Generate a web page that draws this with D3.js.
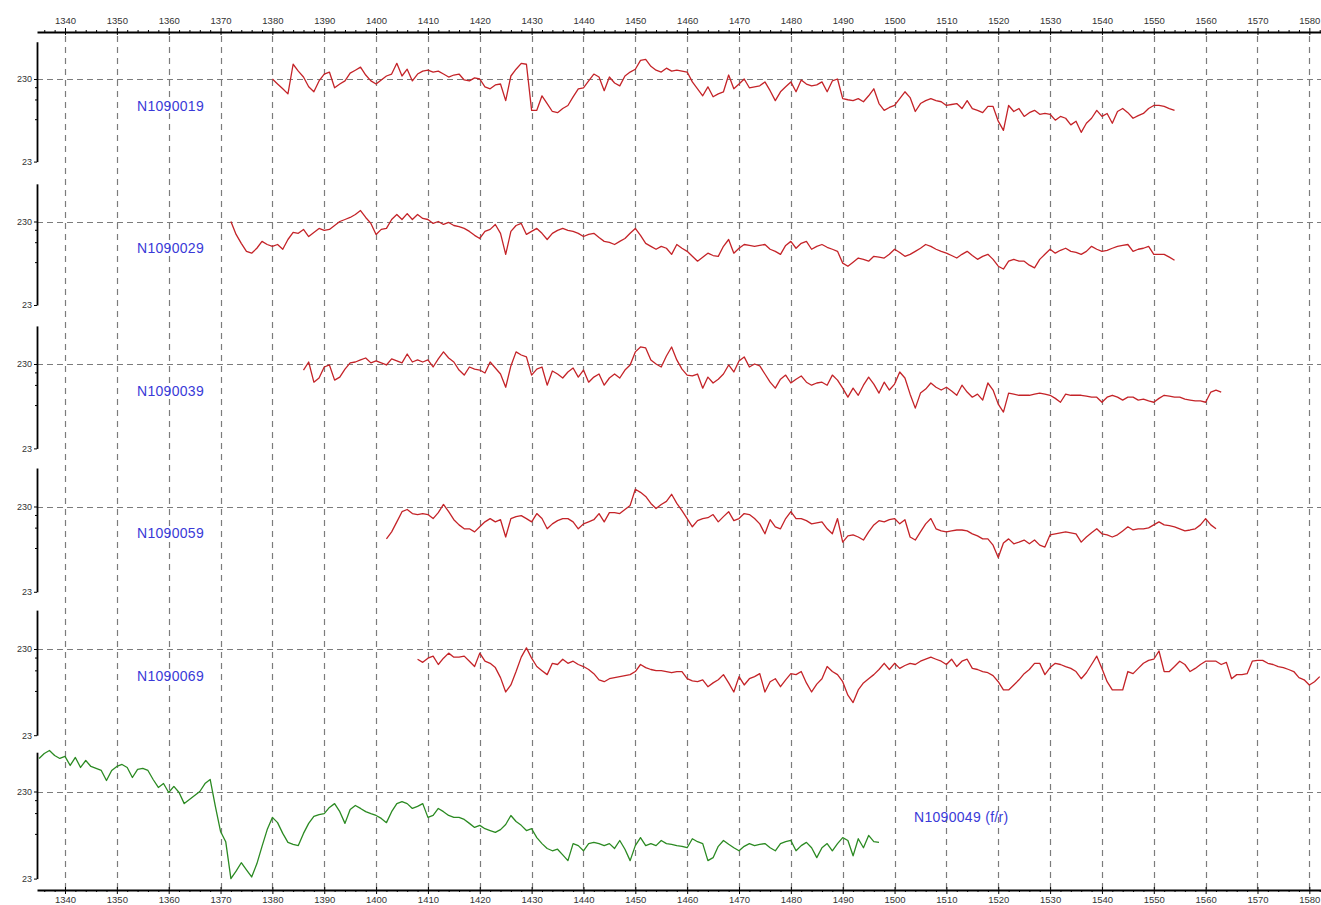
<!DOCTYPE html>
<html>
<head>
<meta charset="utf-8">
<script src="https://cdn.jsdelivr.net/npm/d3@7"></script>
<style>
  body { margin: 0; background: #fff; }
</style>
</head>
<body>
<script>
// series names / first year of each series (panels top to bottom)
const seriesNames = ["N1090019", "N1090029", "N1090039", "N1090059", "N1090069", "N1090049 (f/r)"];
const seriesStart = [1380, 1372, 1386, 1402, 1408, 1335];

// ring widths, one value per year
const s19 = [
  230,200,175,152,347,286,243,185,161,218,
  264,279,180,200,218,271,294,320,257,218,
  200,224,250,264,356,250,302,218,264,286,
  294,279,286,264,243,257,264,224,218,237,
  230,185,175,195,200,126,250,302,356,347,
  96,96,144,116,93,90,101,110,140,175,
  180,218,264,243,166,243,206,190,250,279,
  302,387,398,328,294,279,311,286,294,286,
  279,212,175,144,185,140,152,161,257,175,
  200,230,180,185,190,212,166,126,161,185,
  212,161,224,200,190,195,212,161,218,230,
  133,129,126,133,122,144,175,116,96,104,
  110,133,161,137,93,116,126,133,126,122,
  110,113,116,101,126,101,96,90,107,107,
  71,55,110,93,101,81,90,96,86,88,
  86,73,81,77,64,71,52,67,77,96,
  81,88,67,93,101,90,77,83,88,101,
  110,110,107,101,96
];
const s29 = [
  230,161,126,101,96,110,133,122,116,122,
  107,140,170,166,185,152,170,190,180,185,
  206,230,243,257,279,311,257,218,161,185,
  190,243,279,243,286,243,279,250,243,218,
  230,212,224,206,200,190,175,157,144,175,
  185,212,166,93,175,206,218,161,175,190,
  166,140,166,180,190,180,175,166,152,161,
  166,148,133,129,122,133,144,166,190,157,
  126,116,107,116,110,93,122,110,101,88,
  77,86,96,90,88,116,140,96,110,122,
  119,116,119,122,107,101,93,119,133,110,
  126,133,107,116,122,113,107,101,73,67,
  75,84,81,77,88,86,84,93,107,98,
  88,93,101,110,122,116,107,101,96,90,
  84,93,101,90,81,88,93,81,67,62,
  77,81,77,77,69,64,81,93,107,96,
  104,110,101,98,93,101,116,107,101,104,
  110,116,119,122,101,107,110,116,93,93,
  93,86,79
];
const s39 = [
  195,243,140,157,212,224,148,161,200,237,
  243,257,271,237,250,237,224,264,250,237,
  302,243,257,243,257,212,264,320,271,243,
  195,170,212,200,195,180,243,206,175,122,
  218,320,294,279,170,200,212,129,190,175,
  157,185,206,161,195,140,161,175,129,157,
  175,157,195,224,320,366,356,257,230,212,
  286,366,257,200,170,166,175,119,161,137,
  152,175,224,185,250,279,212,230,218,175,
  140,119,152,170,137,152,166,140,129,137,
  140,129,170,148,119,93,119,98,129,161,
  133,104,140,113,133,185,157,101,69,104,
  116,137,122,113,122,110,98,129,107,93,
  101,86,137,113,77,62,104,101,98,98,
  98,101,104,101,98,90,81,101,98,98,
  98,96,93,93,81,93,98,93,86,93,
  93,86,88,84,81,90,98,96,93,93,
  88,86,84,84,81,107,113,107
];
const s59 = [
  96,116,152,200,212,190,185,190,185,166,
  195,243,200,161,140,126,126,116,133,152,
  166,152,161,101,166,175,180,166,152,190,
  166,126,144,157,166,166,152,126,144,152,
  161,190,152,195,195,190,212,237,366,337,
  302,250,218,243,264,320,250,206,166,133,
  157,166,170,185,152,175,200,157,166,190,
  185,166,144,110,161,133,126,166,200,166,
  166,157,144,148,152,126,110,166,88,104,
  107,101,93,116,140,157,152,161,166,144,
  161,101,93,116,144,166,126,119,116,119,
  122,122,119,110,104,96,96,81,58,86,
  96,84,88,93,84,93,81,77,107,110,
  113,116,113,110,88,101,113,126,110,107,
  101,107,119,133,122,126,126,129,140,152,
  140,137,133,126,119,122,126,140,166,140,126
];
const s69 = [
  175,161,180,190,152,180,206,185,185,190,
  166,144,206,166,157,140,107,73,88,126,
  185,237,180,144,129,116,157,152,175,157,
  166,152,144,133,119,101,96,104,107,110,
  113,116,126,152,140,133,129,129,126,122,
  126,126,104,98,96,101,84,93,101,116,
  93,73,110,88,104,110,119,73,96,104,
  84,101,119,116,126,93,73,90,104,144,
  126,116,96,67,55,77,93,104,116,133,
  157,133,157,137,148,157,152,166,175,185,
  175,166,152,175,144,166,175,137,133,126,
  122,113,96,77,77,88,101,119,133,157,
  157,116,140,157,152,144,137,126,104,122,
  152,190,137,96,77,77,77,126,119,137,
  157,170,175,218,126,126,144,166,152,126,
  137,152,166,166,166,152,161,104,116,116,
  119,166,170,170,157,152,144,140,133,126,
  107,101,88,96,110
];
const s49 = [
  551,629,681,596,551,581,458,566,434,522,
  446,423,401,308,401,446,470,434,333,412,
  423,401,316,256,284,224,263,224,167,186,
  207,230,284,316,155,80,61,23,28,35,
  29,24,34,54,84,116,101,76,60,57,
  55,76,99,119,125,128,151,167,135,99,
  143,159,147,135,128,122,113,101,135,167,
  176,167,147,155,167,116,122,147,135,122,
  116,116,110,99,89,94,86,82,78,84,
  96,122,104,94,82,86,68,58,51,48,
  50,43,37,58,55,48,58,60,58,55,
  58,51,63,50,37,55,68,55,58,55,
  63,58,57,55,54,52,66,61,58,37,
  40,54,63,57,52,48,54,58,55,57,
  58,52,48,58,61,63,48,55,60,52,
  40,52,58,48,58,68,63,42,66,52,
  72,61,60
];
const seriesValues = [s19, s29, s39, s59, s69, s49];
const seriesColor = ["#c42328", "#c42328", "#c42328", "#c42328", "#c42328", "#2b8a22"];

// axis ticks
const yearTicks = d3.range(1340, 1590, 10);
const yearMinor = d3.range(1336, 1584, 2);
const yLabelTicks = [23, 230];
const yMinorTicks = [183, 130, 75];

const width = 1321, height = 905;
const topY = 32, bottomY = 890, leftX = 37;

const svg = d3.select("body").append("svg")
    .attr("width", width)
    .attr("height", height)
    .style("display", "block")
    .style("font-family", "Arial, 'Liberation Sans', sans-serif");

const x = d3.scaleLinear()
    .domain([1334.6, 1582.25])
    .range([leftX, width]);

// one log scale per panel
const panelY = seriesNames.map((n, i) => d3.scaleLog()
    .domain([23, 230])
    .range([161.6 + 143.4 * i, 79 + 142.5 * i]));

// grid
const grid = svg.append("g")
    .attr("stroke", "#7c7c7c")
    .attr("stroke-width", 1.2)
    .attr("fill", "none");

grid.selectAll("line.v")
    .data(yearTicks)
    .join("line")
    .attr("class", "v")
    .attr("x1", d => Math.round(x(d)) + 0.5)
    .attr("x2", d => Math.round(x(d)) + 0.5)
    .attr("y1", topY + 4)
    .attr("y2", bottomY)
    .attr("stroke-dasharray", "6,5");

grid.selectAll("line.h")
    .data(panelY)
    .join("line")
    .attr("class", "h")
    .attr("x1", leftX)
    .attr("x2", width)
    .attr("y1", y => Math.round(y(230)) + 0.5)
    .attr("y2", y => Math.round(y(230)) + 0.5)
    .attr("stroke-dasharray", "6,4");

// series
seriesValues.forEach((vals, i) => {
    const y = panelY[i];
    const pts = vals.map((v, k) => [seriesStart[i] + k, v]);
    const line = d3.line()
        .x(d => x(d[0]))
        .y(d => y(d[1]));
    svg.append("path")
        .datum(pts)
        .attr("d", line)
        .attr("fill", "none")
        .attr("stroke", seriesColor[i])
        .attr("stroke-width", 1.3)
        .attr("stroke-linejoin", "round");
});

// labels
svg.append("g")
    .selectAll("text")
    .data(seriesNames)
    .join("text")
    .attr("x", (d, i) => i === 5 ? 914 : 137)
    .attr("y", (d, i) => panelY[i](230) + (i === 5 ? 26 : 27))
    .attr("dy", "0.35em")
    .attr("fill", "#3a3ad8")
    .style("font-size", "14px")
    .style("letter-spacing", "0.3px")
    .text(d => d);

// left axes
panelY.forEach((y, i) => {
    const yAx = y.copy().domain([23, 650]).range([y(23), y(650)]);
    const g = svg.append("g")
        .attr("transform", `translate(${leftX},0)`);
    g.call(d3.axisLeft(yAx)
        .tickValues(yLabelTicks)
        .tickFormat(d3.format("d"))
        .tickSizeInner(3)
        .tickSizeOuter(0)
        .tickPadding(2));
    g.call(gg => gg.select(".domain").attr("stroke-width", 1.8));
    g.append("g").call(d3.axisLeft(yAx)
        .tickValues(yMinorTicks)
        .tickFormat("")
        .tickSize(2))
        .call(gg => gg.select(".domain").remove());
    g.selectAll("text")
        .style("font-size", "9px")
        .attr("fill", "#333");
});

// top and bottom year axes
function yearAxis(yPos, top) {
    const g = svg.append("g").attr("transform", `translate(0,${yPos})`);
    const ax = top ? d3.axisTop(x) : d3.axisBottom(x);
    g.call(ax.tickValues(yearTicks)
        .tickFormat(d3.format("d"))
        .tickSizeInner(4)
        .tickSizeOuter(0)
        .tickPadding(top ? 4 : 2));
    g.select(".domain").attr("stroke-width", 1.8);
    g.selectAll("text").style("font-size", "9.5px").attr("fill", "#333");
    // ticks on the other side of the line
    g.append("g").call((top ? d3.axisBottom(x) : d3.axisTop(x))
        .tickValues(yearTicks).tickFormat("").tickSize(3))
        .call(gg => gg.select(".domain").remove());
    // minor ticks every 2 years
    g.append("g").call((top ? d3.axisTop(x) : d3.axisBottom(x))
        .tickValues(yearMinor.filter(d => d % 10 !== 0)).tickFormat("").tickSize(2))
        .call(gg => gg.select(".domain").remove());
}
yearAxis(topY, true);
yearAxis(bottomY, false);
</script>
</body>
</html>
